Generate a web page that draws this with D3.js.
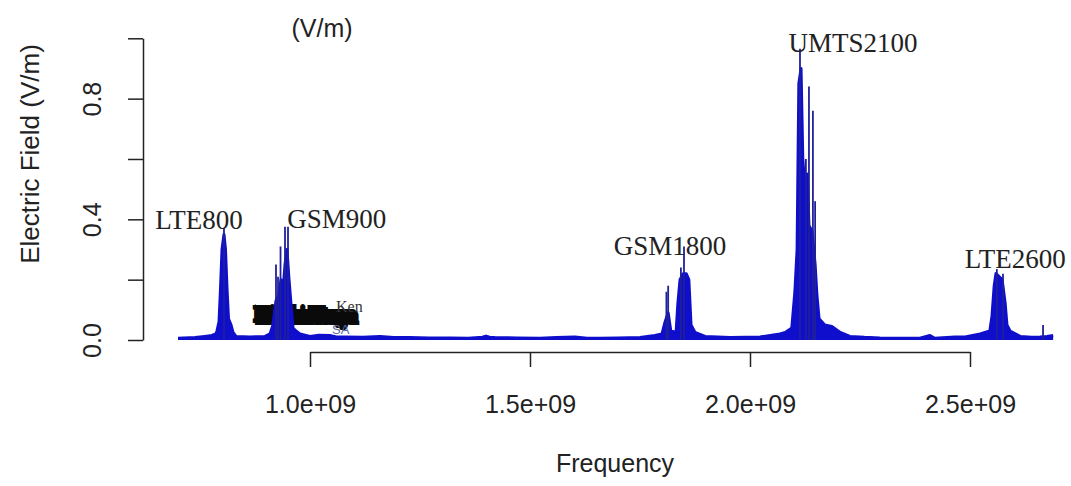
<!DOCTYPE html>
<html>
<head>
<meta charset="utf-8">
<script src="https://cdn.jsdelivr.net/npm/d3@7"></script>
<style>
  html, body { margin: 0; padding: 0; background: #fff; }
  svg { display: block; }
</style>
</head>
<body>
<div id="chart"></div>
<script>
const width = 1071;
const height = 486;

// spectre : fréquence (MHz), champ électrique (V/m)
const freqMHz = [
  700, 739, 761, 777, 786, 788.6, 793.2, 796.6, 800, 804.5, 807.9, 811.4, 814.8, 820.5, 825, 831.8,
  863.6, 897.7, 909, 915.9, 918.2, 922.7, 929.5, 934.1, 938.6, 943.2, 947.7, 952.3, 956.8, 961.4, 968.2, 977.3,
  1000, 1020, 1045, 1060, 1080, 1120, 1159, 1190, 1227, 1270, 1318, 1360, 1392, 1400, 1408, 1420, 1470, 1523,
  1560, 1602, 1630, 1659, 1700, 1750, 1784, 1800, 1807, 1814, 1820, 1832, 1836, 1841, 1848, 1855, 1861, 1866,
  1875, 1898, 1955, 2023, 2068, 2080, 2095, 2102, 2107, 2111, 2116, 2120, 2125, 2130, 2134, 2141, 2148, 2152,
  2157, 2170, 2186, 2205, 2227, 2260, 2295, 2350, 2386, 2409, 2420, 2466, 2489, 2523, 2545, 2550, 2555, 2559,
  2566, 2573, 2580, 2584, 2591, 2614, 2640, 2659, 2675, 2689
];
const fieldVm = [
  0.006, 0.008, 0.012, 0.015, 0.02, 0.03, 0.06, 0.17, 0.30, 0.35, 0.30, 0.17, 0.07, 0.05, 0.025, 0.012,
  0.01, 0.012, 0.02, 0.05, 0.08, 0.13, 0.15, 0.20, 0.16, 0.25, 0.30, 0.20, 0.12, 0.04, 0.03, 0.02,
  0.012, 0.016, 0.015, 0.01, 0.01, 0.009, 0.012, 0.008, 0.008, 0.007, 0.007, 0.006, 0.009, 0.013, 0.009, 0.008, 0.007, 0.006,
  0.008, 0.01, 0.006, 0.006, 0.007, 0.008, 0.015, 0.02, 0.06, 0.09, 0.03, 0.025, 0.12, 0.20, 0.22, 0.22, 0.20, 0.05,
  0.025, 0.012, 0.008, 0.01, 0.02, 0.025, 0.04, 0.16, 0.30, 0.85, 0.90, 0.60, 0.50, 0.55, 0.38, 0.36, 0.25, 0.15,
  0.07, 0.05, 0.045, 0.025, 0.012, 0.009, 0.007, 0.006, 0.006, 0.015, 0.006, 0.01, 0.01, 0.02, 0.03, 0.08, 0.18, 0.22,
  0.21, 0.20, 0.12, 0.05, 0.03, 0.012, 0.009, 0.01, 0.012, 0.015
];

// pics fins
const spikeMHz = [804.5, 922.7, 927.3, 933, 943.2, 950, 1810, 1814, 1843, 1850, 2113.6, 2127, 2134, 2143, 2148, 2561, 2575, 2666];
const spikeVm  = [0.37, 0.25, 0.21, 0.31, 0.375, 0.375, 0.16, 0.18, 0.24, 0.31, 0.965, 0.60, 0.84, 0.76, 0.46, 0.235, 0.22, 0.05];

// étiquettes des bandes
const bandNames = ["LTE800", "GSM900", "GSM1800", "UMTS2100", "LTE2600"];
const bandMHz   = [748, 1061, 1818, 2234, 2603];
const bandVm    = [0.368, 0.372, 0.282, 0.954, 0.238];

const xTicks = [1000, 1500, 2000, 2500];
const yTicks = [0, 0.2, 0.4, 0.6, 0.8, 1.0];
const yLabelled = [0, 0.4, 0.8];

// légende écrasée (texte superposé)
const legendTexts = ["Nairobi Kenya", "Mombasa Kenya", "Kisumu Kenya", "Nakuru Kenya"];

const svg = d3.select('#chart')
  .append('svg')
  .attr('width', width)
  .attr('height', height);

const x = d3.scaleLinear().domain([1000, 2500]).range([310, 970]);
const y = d3.scaleLinear().domain([0, 1]).range([340, 38.3]);

const spectrum = freqMHz.map((f, i) => ({ f: f, v: fieldVm[i] }));
const blue = "#0e0ecc";

// légende brouillée (sous le spectre)
const legend = svg.append("g").attr("transform", "translate(254, 321)");
legendTexts.forEach((t, i) => {
  legend.append("text")
    .attr("x", i * 2)
    .attr("y", (i % 2) * 2)
    .attr("textLength", 98)
    .attr("lengthAdjust", "spacingAndGlyphs")
    .attr("font-family", "Liberation Serif")
    .attr("font-size", "20px")
    .attr("font-weight", "bold")
    .attr("fill", "#0a0a0a")
    .attr("stroke", "#0a0a0a")
    .attr("stroke-width", 4)
    .text(t);
});
legend.append("text")
  .attr("x", 82).attr("y", -9)
  .attr("font-family", "Liberation Serif")
  .attr("font-size", "16px")
  .attr("fill", "#333")
  .text("Ken");
legend.append("text")
  .attr("x", 78).attr("y", 13)
  .attr("font-family", "Liberation Sans")
  .attr("font-size", "13px")
  .attr("fill", "#5a68a8")
  .text("SA");

// surface + ligne du spectre
svg.append("path")
  .datum(spectrum)
  .attr("fill", blue)
  .attr("d", d3.area().x(d => x(d.f)).y0(y(0)).y1(d => y(d.v)));

svg.append("path")
  .datum(spectrum)
  .attr("fill", "none")
  .attr("stroke", blue)
  .attr("stroke-width", 3)
  .attr("stroke-linejoin", "round")
  .attr("d", d3.line().x(d => x(d.f)).y(d => y(d.v)));

svg.append("g")
  .selectAll("line")
  .data(spikeMHz)
  .enter()
  .append("line")
  .attr("x1", d => x(d))
  .attr("x2", d => x(d))
  .attr("y1", y(0))
  .attr("y2", (d, i) => y(spikeVm[i]))
  .attr("stroke", "#20209a")
  .attr("stroke-width", 1.8);

// étiquettes des bandes
svg.append("g")
  .selectAll("text")
  .data(bandNames)
  .enter()
  .append("text")
  .attr("x", (d, i) => x(bandMHz[i]))
  .attr("y", (d, i) => y(bandVm[i]))
  .attr("text-anchor", "middle")
  .attr("font-family", "Liberation Serif")
  .attr("font-size", "27px")
  .attr("fill", "#222")
  .text(d => d);

// axes
const fmtExp = d => {
  const s = (d * 1e6).toExponential(1);
  const parts = s.split("e");
  const sign = parts[1][0];
  const ex = parts[1].slice(1).padStart(2, "0");
  return parts[0] + "e" + sign + ex;
};

const xAxis = svg.append("g")
  .attr("transform", "translate(0, 352)")
  .attr("color", "#222")
  .call(d3.axisBottom(x).tickValues(xTicks).tickSize(15).tickSizeOuter(0).tickFormat(fmtExp));
xAxis.selectAll("path, line").attr("stroke-width", 1.5);
xAxis.selectAll("text")
  .attr("y", 61)
  .attr("dy", 0)
  .attr("font-family", "Liberation Sans")
  .attr("font-size", "25px")
  .attr("fill", "#222");

const yAxis = svg.append("g")
  .attr("transform", "translate(143, 0)")
  .attr("color", "#222")
  .call(d3.axisLeft(y).tickValues(yTicks).tickSize(15).tickSizeOuter(0)
    .tickFormat(d => yLabelled.includes(d) ? d3.format(".1f")(d) : ""));
yAxis.selectAll("path, line").attr("stroke-width", 1.5);
yAxis.selectAll("text")
  .attr("transform", "rotate(-90)")
  .attr("x", 0)
  .attr("y", -42)
  .attr("dy", 0)
  .attr("text-anchor", "middle")
  .attr("font-family", "Liberation Sans")
  .attr("font-size", "25px")
  .attr("fill", "#222");

// titres
svg.append("text")
  .attr("x", 322).attr("y", 37)
  .attr("text-anchor", "middle")
  .attr("font-family", "Liberation Sans")
  .attr("font-size", "25px")
  .attr("fill", "#222")
  .text("(V/m)");

svg.append("text")
  .attr("x", 615).attr("y", 472)
  .attr("text-anchor", "middle")
  .attr("font-family", "Liberation Sans")
  .attr("font-size", "25px")
  .attr("fill", "#222")
  .text("Frequency");

svg.append("text")
  .attr("transform", "translate(39, 154) rotate(-90)")
  .attr("text-anchor", "middle")
  .attr("font-family", "Liberation Sans")
  .attr("font-size", "26px")
  .attr("fill", "#222")
  .text("Electric Field (V/m)");
</script>
</body>
</html>
